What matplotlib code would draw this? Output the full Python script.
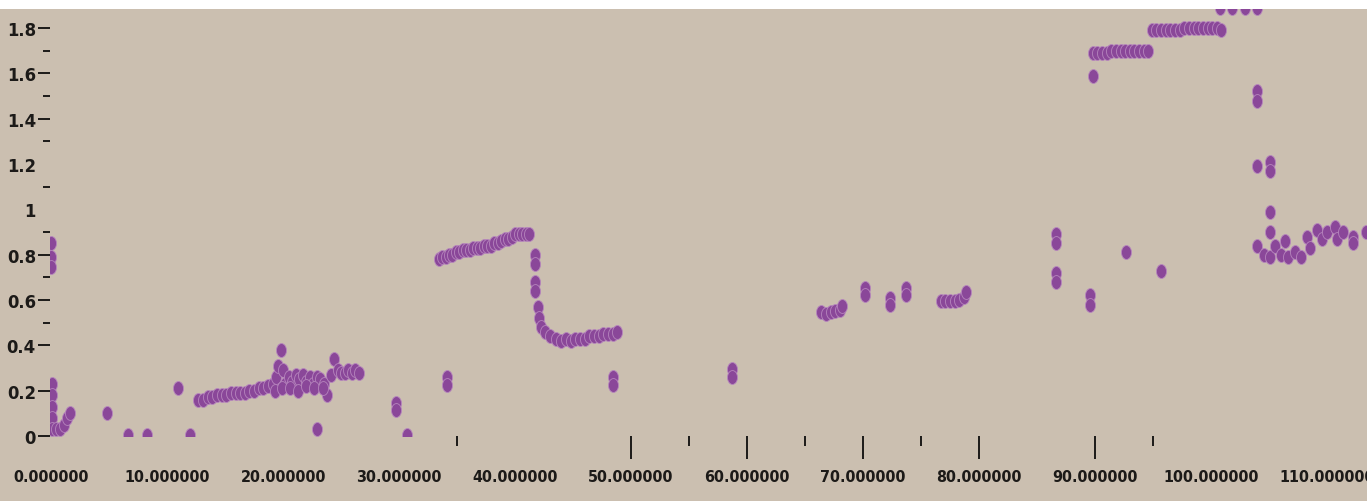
import numpy as np
import matplotlib
matplotlib.use("Agg")
import matplotlib.pyplot as plt
from matplotlib.patches import Rectangle

plt.rcParams['font.family'] = ['DejaVu Sans']

# ---- data (x, y) ----
# start of the run
start_x = [0.0, 0.0, 0.0, 0.1, 0.1, 0.1, 0.1, 0.1, 0.4, 0.8, 1.1, 1.4, 1.6,
           4.8, 6.6, 8.3, 10.9, 12.0]
start_y = [0.85, 0.79, 0.745, 0.23, 0.18, 0.13, 0.08, 0.03, 0.03, 0.03, 0.05, 0.08, 0.10,
           0.10, 0.005, 0.005, 0.21, 0.005]

# low band 12..27
band1_x = [12.7, 13.1, 13.5, 13.9, 14.3, 14.7, 15.1, 15.5, 15.9, 16.3, 16.7, 17.1,
           17.5, 17.9, 18.3, 18.7, 19.1, 19.4, 19.6, 19.8, 20.0, 20.2, 20.5, 20.8,
           21.1, 21.4, 21.7, 22.0, 22.3, 22.6, 22.9, 23.2, 23.5, 23.8, 24.1, 24.4,
           24.7, 25.0, 25.3, 25.6, 25.9, 26.2, 26.5,
           19.3, 19.9, 20.6, 21.3, 22.0, 22.7, 23.4]
band1_y = [0.16, 0.16, 0.17, 0.17, 0.18, 0.18, 0.18, 0.19, 0.19, 0.19, 0.19, 0.20,
           0.20, 0.21, 0.21, 0.22, 0.23, 0.26, 0.31, 0.38, 0.29, 0.23, 0.26, 0.24,
           0.27, 0.25, 0.27, 0.24, 0.26, 0.23, 0.26, 0.25, 0.23, 0.18, 0.27, 0.34,
           0.29, 0.28, 0.28, 0.29, 0.28, 0.29, 0.28,
           0.20, 0.21, 0.21, 0.20, 0.22, 0.21, 0.21]

# scattered points 22..35
mid_x = [22.9, 29.7, 29.7, 30.7, 34.1, 34.1]
mid_y = [0.03, 0.145, 0.115, 0.005, 0.26, 0.225]

# upper band 33..41 and the drop
band2_x = [33.4, 33.7, 34.0, 34.3, 34.6, 34.9, 35.2, 35.5, 35.8, 36.1, 36.4, 36.7,
           37.0, 37.3, 37.6, 37.9, 38.2, 38.5, 38.8, 39.1, 39.4, 39.7, 40.0, 40.3,
           40.6, 40.9, 41.2,
           41.7, 41.7, 41.7, 41.7, 42.0, 42.1, 42.2, 42.6, 43.0, 43.5, 44.0]
band2_y = [0.78, 0.79, 0.79, 0.80, 0.80, 0.81, 0.81, 0.82, 0.82, 0.82, 0.83, 0.83,
           0.83, 0.84, 0.84, 0.84, 0.85, 0.85, 0.86, 0.87, 0.87, 0.88, 0.89, 0.89,
           0.89, 0.89, 0.89,
           0.80, 0.76, 0.68, 0.64, 0.57, 0.52, 0.48, 0.46, 0.44, 0.43, 0.42]

# flat band 44..49
band3_x = [44.4, 44.8, 45.2, 45.6, 46.0, 46.4, 46.8, 47.2, 47.6, 48.0, 48.4, 48.8,
           48.4, 48.4]
band3_y = [0.43, 0.42, 0.43, 0.43, 0.43, 0.44, 0.44, 0.44, 0.45, 0.45, 0.45, 0.46,
           0.26, 0.225]

# sparse points 58..80
sparse_x = [58.7, 58.7, 66.4, 66.8, 67.2, 67.6, 68.0, 68.2, 70.2, 70.2, 72.3, 72.3,
            73.7, 73.7, 76.7, 77.1, 77.5, 77.9, 78.3, 78.7, 78.9]
sparse_y = [0.295, 0.26, 0.545, 0.54, 0.545, 0.55, 0.555, 0.575, 0.655, 0.62, 0.61, 0.58,
            0.655, 0.62, 0.595, 0.595, 0.595, 0.595, 0.60, 0.615, 0.635]

# points 86..96
late_x = [86.6, 86.6, 86.6, 86.6, 89.6, 89.6, 92.7, 95.7]
late_y = [0.89, 0.85, 0.72, 0.68, 0.62, 0.58, 0.81, 0.73]

# high plateaus 89..105
high_x = [89.8,
          89.8, 90.2, 90.6, 91.0, 91.4, 91.8, 92.2, 92.6, 93.0, 93.4, 93.8, 94.2, 94.6,
          94.9, 95.3, 95.7, 96.1, 96.5, 96.9, 97.3, 97.7, 98.1, 98.5, 98.9, 99.3,
          99.7, 100.1, 100.5, 100.9,
          100.8, 101.8, 102.9, 104.0]
high_y = [1.59,
          1.69, 1.69, 1.69, 1.69, 1.70, 1.70, 1.70, 1.70, 1.70, 1.70, 1.70, 1.70, 1.70,
          1.79, 1.79, 1.79, 1.79, 1.79, 1.79, 1.79, 1.80, 1.80, 1.80, 1.80, 1.80,
          1.80, 1.80, 1.80, 1.79,
          1.89, 1.89, 1.89, 1.89]

# fall and last cluster 104..113
end_x = [104.0, 104.0, 104.0, 105.1, 105.1, 105.1, 105.1,
         104.0, 104.6, 105.1, 105.5, 106.0, 106.4, 106.6, 107.2, 107.8, 108.3,
         108.5, 109.1, 109.6, 110.0, 110.7, 110.9, 111.4, 112.2, 112.2, 113.4]
end_y = [1.52, 1.48, 1.19, 1.21, 1.17, 0.99, 0.90,
         0.84, 0.80, 0.79, 0.84, 0.80, 0.86, 0.79, 0.81, 0.79, 0.88,
         0.83, 0.91, 0.87, 0.90, 0.92, 0.87, 0.90, 0.88, 0.85, 0.90]

x_all = start_x + band1_x + mid_x + band2_x + band3_x + sparse_x + late_x + high_x + end_x
y_all = start_y + band1_y + mid_y + band2_y + band3_y + sparse_y + late_y + high_y + end_y

x_ticks = list(range(0, 111, 10))
x_labels = [f"{v:.6f}" for v in x_ticks]
x_minor = list(range(5, 110, 10))
y_ticks = [0, 0.2, 0.4, 0.6, 0.8, 1.0, 1.2, 1.4, 1.6, 1.8]
y_labels = ["0", "0.2", "0.4", "0.6", "0.8", "1", "1.2", "1.4", "1.6", "1.8"]
y_minor = [0.1, 0.3, 0.5, 0.7, 0.9, 1.1, 1.3, 1.5, 1.7]

bg = '#CBBFB0'
purple = '#8A4799'
ink = '#1c1a18'

W, H = 1367, 502
fig = plt.figure(figsize=(W / 100, H / 100), dpi=100)
fig.patch.set_facecolor('white')
# tan panel below the thin white strip on top
fig.patches.append(Rectangle((0, 0), 1, 492 / H, transform=fig.transFigure,
                             facecolor=bg, edgecolor='none', zorder=-10))

ax = fig.add_axes([50 / W, 65 / H, (W - 50) / W, 427 / H])
ax.set_facecolor('none')
for s in ax.spines.values():
    s.set_visible(False)

# vertical oval marker
t = np.linspace(0, 2 * np.pi, 24)
oval = np.column_stack([0.36 * np.cos(t), 0.5 * np.sin(t)])

ax.plot(x_all, y_all, linestyle='none', marker=oval, markersize=10,
        markerfacecolor=purple, markeredgecolor='#B685BD', markeredgewidth=0.6)

ax.set_xlim(-0.1, 113.45)
ax.set_ylim(0, 1.884)

ax.xaxis.remove_overlapping_locs = False
ax.set_xticks(x_ticks)
ax.set_xticklabels(x_labels)
ax.set_xticks(x_minor, minor=True)
ax.set_yticks(y_ticks)
ax.set_yticklabels(y_labels)
ax.set_yticks(y_minor, minor=True)

ax.tick_params(axis='x', which='major', direction='out', length=16.5, width=1.4,
               color=ink, pad=7.0, labelcolor=ink)
ax.tick_params(axis='x', which='minor', direction='out', length=7.5, width=1.4, color=ink)
ax.tick_params(axis='y', which='major', direction='out', length=8.6, width=1.4,
               color=ink, pad=1.5, labelcolor=ink)
ax.tick_params(axis='y', which='minor', direction='out', length=5, width=1.4, color=ink)

# the labels in the original are a very narrow font: pick a size so that
# "100.000000" is about 96 px wide
probe = fig.text(0, 0, "100.000000", fontsize=20, fontweight='bold',
                 fontstretch='condensed')
fig.canvas.draw()
wpx = probe.get_window_extent().width
probe.remove()
fs = min(16, 20 * 96 / wpx)

for lab in ax.get_xticklabels():
    lab.set_fontweight('bold')
    lab.set_fontstretch('condensed')
    lab.set_fontsize(fs)
for lab in ax.get_yticklabels():
    lab.set_fontweight('bold')
    lab.set_fontstretch('condensed')
    lab.set_fontsize(fs * 1.15)

# only some tick marks are drawn in the original
for v, tk in zip(x_ticks, ax.xaxis.get_major_ticks()):
    tk.tick1line.set_visible(v in (50, 60, 70, 80, 90))
for v, tk in zip(x_minor, ax.xaxis.get_minor_ticks()):
    tk.tick1line.set_visible(v in (35, 55, 65, 75, 95))
for v, tk in zip(y_ticks, ax.yaxis.get_major_ticks()):
    tk.tick1line.set_visible(v not in (1.0, 1.2))
for v, tk in zip(y_minor, ax.yaxis.get_minor_ticks()):
    tk.tick1line.set_visible(v not in (0.1, 0.3))

fig.savefig('out.png', dpi=100, facecolor=fig.get_facecolor())
